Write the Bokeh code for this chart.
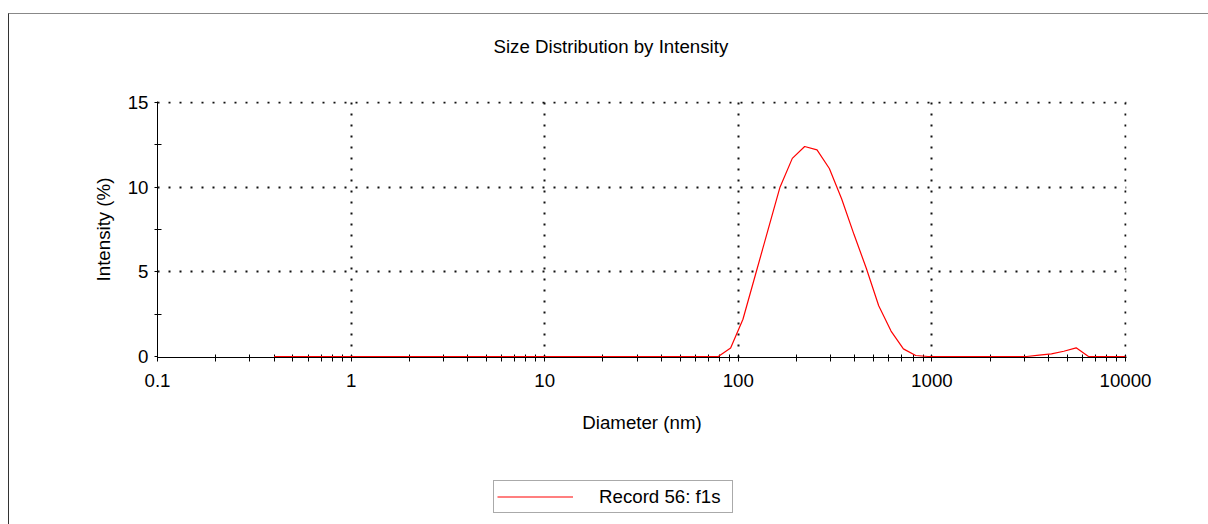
import math
from bokeh.plotting import figure
from bokeh.layouts import column
from bokeh.models import (FixedTicker, Legend, LegendItem, Range1d, InlineStyleSheet)
from bokeh.embed import file_html
from bokeh.resources import INLINE

# ---- data ----
diameter_nm = [0.4, 0.4632, 0.5365, 0.6213, 0.7195, 0.8332, 0.9649, 1.117, 1.294, 1.499,
               1.736, 2.010, 2.328, 2.696, 3.122, 3.615, 4.187, 4.849, 5.615, 6.503,
               7.531, 8.721, 10.10, 11.70, 13.54, 15.69, 18.17, 21.04, 24.36, 28.21,
               32.67, 37.84, 43.82, 50.75, 58.77, 68.06, 78.82, 91.28, 105.7, 122.4,
               141.8, 164.2, 190.1, 220.2, 255.0, 295.3, 342.0, 396.1, 458.7, 531.2,
               615.1, 712.4, 825.0, 955.4, 1106, 1281, 1484, 1718, 1990, 2305,
               2669, 3091, 3580, 4145, 4801, 5560, 6439, 7456, 8635, 10000]
intensity_pct = [0, 0, 0, 0, 0, 0, 0, 0, 0, 0,
                 0, 0, 0, 0, 0, 0, 0, 0, 0, 0,
                 0, 0, 0, 0, 0, 0, 0, 0, 0, 0,
                 0, 0, 0, 0, 0, 0, 0, 0.5, 2.2, 4.8,
                 7.4, 10.0, 11.7, 12.4, 12.2, 11.1, 9.3, 7.2, 5.2, 3.0,
                 1.5, 0.45, 0.06, 0, 0, 0, 0, 0, 0, 0,
                 0, 0, 0.08, 0.16, 0.31, 0.51, 0, 0, 0, 0]
x_ticks = [0.1, 1, 10, 100, 1000, 10000]
x_tick_labels = ["0.1", "1", "10", "100", "1000", "10000"]
y_ticks = [0, 5, 10, 15]
y_minor_ticks = [2.5, 7.5, 12.5]
series_name = "Record 56: f1s"
title_text = "Size Distribution by Intensity"

FONT = "Liberation Sans"
FS = "18.7px"
RED = "#ff0000"

W = 1208
H_MAIN, H_LEG = 470, 54
L, R, T, B = 157, 1126, 101, 357
YPX = 254 / 15.0           # pixels per y unit
XPX = 968 / 5.0            # pixels per decade

p = figure(width=W, height=H_MAIN, x_axis_type="log",
           x_range=Range1d(0.1, 10000 * 10 ** (1 / XPX)),
           y_range=Range1d(-1 / YPX, 15 + 1 / YPX),
           output_backend="svg", toolbar_location=None,
           min_border_left=L, min_border_right=W - R,
           min_border_top=T, min_border_bottom=H_MAIN - B)
p.outline_line_color = None
p.background_fill_color = "white"
p.border_fill_color = "white"
p.stylesheets = [InlineStyleSheet(css="""
:host { position: relative; }
:host::after { content: ''; position: absolute; left: 8px; top: 13px; right: 0; bottom: 0;
  border-left: 1px solid #333; border-top: 1px solid #888; pointer-events: none; }
""")]

# title (a trailing blank line lifts it away from the frame)
p.title.text = title_text + "\n"
p.title.align = "left"
p.title.offset = 493 - L
p.title.text_font = FONT
p.title.text_font_size = FS
p.title.text_font_style = "normal"
p.title.text_color = "black"
try:
    p.title.standoff = 47
except Exception:
    pass

# grids
p.xgrid.ticker = FixedTicker(ticks=x_ticks[1:])
p.ygrid.ticker = FixedTicker(ticks=y_ticks[1:])
for g in (p.xgrid, p.ygrid):
    g.grid_line_color = "#111111"
    g.grid_line_dash = "2 9"
    g.grid_line_width = 2

# axes
minor_x = [m * 10 ** e for e in range(-1, 4) for m in range(2, 10)]
xa = p.xaxis[0]
xa.ticker = FixedTicker(ticks=x_ticks, minor_ticks=minor_x)
xa.major_label_overrides = {t: lab for t, lab in zip(x_ticks, x_tick_labels)}
xa.axis_label = "Diameter (nm)"
xa.major_tick_in = 3
xa.major_tick_out = 4
xa.minor_tick_in = 3
xa.minor_tick_out = 4
xa.major_label_standoff = 12
xa.axis_label_standoff = 22

ya = p.yaxis[0]
ya.ticker = FixedTicker(ticks=y_ticks, minor_ticks=y_minor_ticks)
ya.axis_label = "Intensity (%)"
ya.major_tick_in = 0
ya.major_tick_out = 3
ya.minor_tick_in = 4
ya.minor_tick_out = 3
ya.major_label_standoff = 6
ya.axis_label_standoff = 11

for ax in (xa, ya):
    ax.axis_line_color = "black"
    ax.major_tick_line_color = "black"
    ax.minor_tick_line_color = "black"
    ax.major_label_text_font = FONT
    ax.major_label_text_font_size = FS
    ax.major_label_text_color = "black"
    ax.axis_label_text_font = FONT
    ax.axis_label_text_font_size = FS
    ax.axis_label_text_font_style = "normal"
    ax.axis_label_text_color = "black"

r = p.line(diameter_nm, intensity_pct, line_color=RED, line_width=1.2)
r.level = "overlay"

# ---- legend strip below the chart ----
q = figure(width=W, height=H_LEG, x_range=Range1d(-20, -10), y_range=Range1d(-20, -10),
           x_axis_location=None, y_axis_location=None,
           output_backend="svg", toolbar_location=None,
           min_border=0, min_border_left=0, min_border_right=0,
           min_border_top=0, min_border_bottom=0)
q.outline_line_color = None
q.grid.visible = False
q.background_fill_color = "white"
q.border_fill_color = "white"
q.stylesheets = [InlineStyleSheet(css="""
:host { position: relative; }
:host::after { content: ''; position: absolute; left: 8px; top: 0; bottom: 0; width: 0;
  border-left: 1px solid #333; pointer-events: none; }
""")]
rq = q.line(diameter_nm, intensity_pct, line_color=RED, line_width=1.2)

legend = Legend(items=[LegendItem(label=series_name, renderers=[rq])],
                location=(493 - 157, H_LEG - 43),
                glyph_width=76, glyph_height=25, label_height=25, label_width=130,
                label_standoff=26, padding=3, spacing=0, margin=0,
                border_line_color="#555555", border_line_width=1,
                label_text_font=FONT, label_text_font_size=FS,
                label_text_color="black", background_fill_color="white")
q.add_layout(legend, "center")

layout = column(p, q, spacing=0)
open("out.html", "w").write(file_html(layout, INLINE))
